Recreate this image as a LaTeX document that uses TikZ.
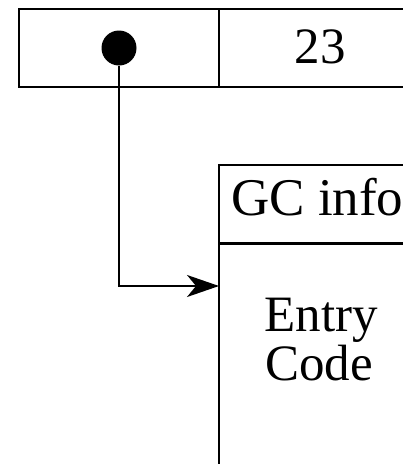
\documentclass[tikz,border=0pt]{standalone}
\usepackage{fontspec}
\setmainfont{Liberation Serif}
\usetikzlibrary{arrows.meta,positioning}

\begin{document}
\begin{tikzpicture}[x=1pt,y=-1pt,
  cell/.style={draw, line width=1.6pt, minimum height=78pt, inner sep=0pt, outer sep=0pt},
  lbl/.style={font=\fontsize{51}{51}\selectfont, inner sep=0pt}]
\useasboundingbox (0,0) rectangle (403,464);
\clip (0,0) rectangle (403,464);
% Pair: pointer cell and value cell
\node[cell, minimum width=200pt, anchor=north west] (ptr) at (19,9) {};
\node[cell, minimum width=201pt, anchor=north west] (val) at (ptr.north east) {};
\draw[line width=2.6pt] (ptr.north east) -- (ptr.south east);
\node[circle, fill, minimum size=35pt, inner sep=0pt] (dot) at (ptr.center) {};
\node[lbl, anchor=base] (num) at (320,63) {23};
% Info table with header and code
\node[cell, minimum width=201pt, anchor=north west] (hdr) at (219,165) {};
\node[cell, minimum width=201pt, minimum height=260pt, anchor=north west] (body) at (hdr.south west) {};
\draw[line width=3pt] (hdr.south west) -- (hdr.south east);
\draw[line width=2.8pt] (body.north west) -- (body.south west);
\node[lbl, font=\fontsize{53}{53}\selectfont, anchor=base west] (gc) at (231,215) {GC info};
\node[lbl, anchor=base] (entry) at (321,331) {Entry};
\node[lbl, anchor=base] (code) at (319,380) {Code};
% Pointer to the entry code
\coordinate (tip) at ([yshift=-43pt]body.north west);
\draw[line width=1.6pt, -{Stealth[length=32pt,width=22pt,inset=9pt]}] (dot.south) |- (tip);
\end{tikzpicture}
\end{document}
